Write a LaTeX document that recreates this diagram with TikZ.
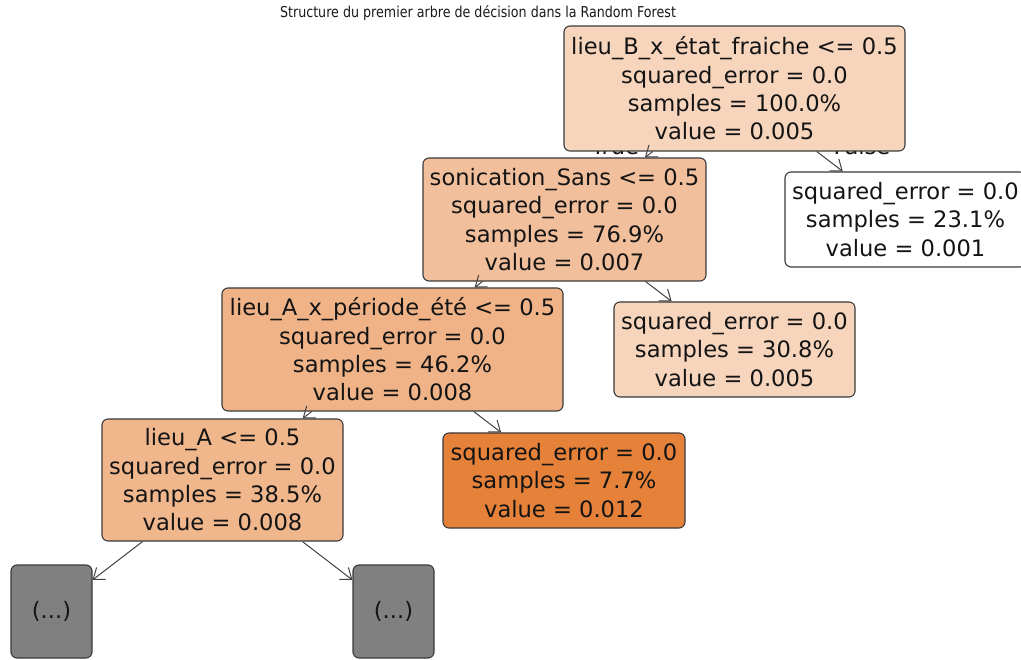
\documentclass[tikz,border=0pt]{standalone}
\usepackage{fontspec}
\usepackage{graphicx}
\setmainfont{DejaVu Sans}
\usetikzlibrary{arrows.meta}

\definecolor{nodeline}{HTML}{3A3A3A}
\definecolor{edgeline}{HTML}{404040}
\definecolor{cRoot}{HTML}{F6D5BC}
\definecolor{cSon}{HTML}{F2BF9C}
\definecolor{cLieuAx}{HTML}{F0B388}
\definecolor{cLieuA}{HTML}{F0B68C}
\definecolor{cLeafB}{HTML}{F6D5BC}
\definecolor{cLeafC}{HTML}{E58139}
\definecolor{cMore}{HTML}{808080}

\tikzset{
  treenode/.style={draw=nodeline, line width=1.1pt, rounded corners=6pt,
    inner sep=0pt, align=center, text=black!92,
    font=\fontsize{22.6}{28.3}\selectfont},
  splitbox/.style={treenode, minimum height=123pt},
  leafbox/.style={treenode, minimum width=241pt, minimum height=95pt},
  morebox/.style={treenode, fill=cMore, minimum width=81pt, minimum height=93pt},
  edge/.style={draw=edgeline, line width=1pt,
    -{Straight Barb[length=10pt,width=15pt,line width=1pt]}},
  sidelabel/.style={anchor=base, inner sep=0pt, text=black!92,
    font=\fontsize{22.6}{26}\selectfont},
}

\begin{document}
\begin{tikzpicture}[x=1pt,y=-1pt]
\useasboundingbox (0,0) rectangle (1021,660);

% title
\node[anchor=base, inner sep=0pt, font=\fontsize{15}{18}\selectfont, text=black!90]
  (title) at (478,18) {\scalebox{0.845}[1]{Structure du premier arbre de décision dans la Random Forest}};

% branch labels of the root split (partly hidden by the boxes)
\node[sidelabel] (lblTrue)  at (615,155) {True};
\node[sidelabel] (lblFalse) at (862,155) {False};

% split nodes
\node[splitbox, fill=cRoot, minimum width=341pt, minimum height=125pt] (root) at (734.5,88.5)
  {lieu\_B\_x\_état\_fraiche <= 0.5\\squared\_error = 0.0\\samples = 100.0\%\\value = 0.005};
\node[splitbox, fill=cSon, minimum width=283pt] (son) at (564.5,219.5)
  {sonication\_Sans <= 0.5\\squared\_error = 0.0\\samples = 76.9\%\\value = 0.007};
\node[splitbox, fill=cLieuAx, minimum width=341pt] (lieuAx) at (392.5,349.5)
  {lieu\_A\_x\_période\_été <= 0.5\\squared\_error = 0.0\\samples = 46.2\%\\value = 0.008};
\node[splitbox, fill=cLieuA, minimum width=241pt, minimum height=122pt] (lieuA) at (222.5,480)
  {lieu\_A <= 0.5\\squared\_error = 0.0\\samples = 38.5\%\\value = 0.008};

% leaves
\node[leafbox, fill=white] (leafA) at (905.5,219.5)
  {squared\_error = 0.0\\samples = 23.1\%\\value = 0.001};
\node[leafbox, fill=cLeafB] (leafB) at (734.5,349.5)
  {squared\_error = 0.0\\samples = 30.8\%\\value = 0.005};
\node[leafbox, fill=cLeafC, minimum width=242pt] (leafC) at (564,480.5)
  {squared\_error = 0.0\\samples = 7.7\%\\value = 0.012};

% truncated subtrees
\node[morebox] (moreL) at (51.5,611.5) {(...)};
\node[morebox] (moreR) at (393.5,611.5) {(...)};

% connectors
\draw[edge] (root) -- (son);
\draw[edge] (root) -- (leafA);
\draw[edge] (son) -- (lieuAx);
\draw[edge] (son) -- (leafB);
\draw[edge] (lieuAx) -- (lieuA);
\draw[edge] (lieuAx) -- (leafC);
\draw[edge] (lieuA) -- (moreL);
\draw[edge] (lieuA) -- (moreR);
\end{tikzpicture}
\end{document}
